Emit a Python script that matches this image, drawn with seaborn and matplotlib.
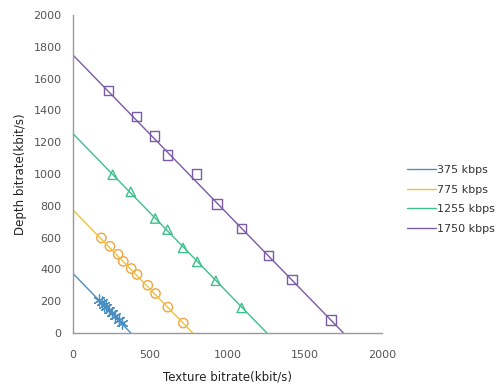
import pandas as pd
import matplotlib
matplotlib.use('Agg')
import matplotlib.pyplot as plt
import seaborn as sns

# total bitrate budgets (kbps)
rates = [375, 775, 1255, 1750]
labels = ['375 kbps', '775 kbps', '1255 kbps', '1750 kbps']
colors = ['#4a8fc4', '#f2c13a', '#3fbf8c', '#7b5aa6']
marker_colors = ['#4a8fc4', '#eea545', '#3fbf8c', '#7b5aa6']
markers = ['*', 'o', '^', 's']

# measured (texture, depth) pairs for each budget
tex_375 = [170, 188, 203, 218, 236, 252, 272, 296, 318]
dep_375 = [210, 192, 176, 160, 142, 124, 104, 82, 60]

tex_775 = [185, 240, 293, 327, 378, 416, 485, 535, 615, 715]
dep_775 = [598, 545, 495, 450, 405, 368, 300, 248, 162, 62]

tex_1255 = [258, 375, 533, 613, 713, 805, 925, 1092]
dep_1255 = [995, 888, 720, 650, 535, 447, 328, 157]

tex_1750 = [232, 410, 530, 612, 800, 932, 1093, 1265, 1418, 1670]
dep_1750 = [1525, 1362, 1240, 1120, 1000, 812, 658, 488, 335, 82]

points = [(tex_375, dep_375), (tex_775, dep_775), (tex_1255, dep_1255), (tex_1750, dep_1750)]

sns.set_style('white')
plt.rcParams['font.family'] = ['DejaVu Sans']

fig = plt.figure(figsize=(5.02, 3.88), dpi=100)
ax = fig.add_axes([0.145, 0.142, 0.616, 0.819])

handles = []
for r, lab, c, mc, m, (tx, dp) in zip(rates, labels, colors, marker_colors, markers, points):
    line_df = pd.DataFrame({'x': [0, r], 'y': [r, 0]})
    sns.lineplot(data=line_df, x='x', y='y', color=c, linewidth=1, ax=ax)
    handles.append(ax.lines[-1])
    pts = pd.DataFrame({'x': tx, 'y': dp})
    if m == '*':
        sns.scatterplot(data=pts, x='x', y='y', marker=(6, 2, 0), s=65, color=mc,
                        linewidth=0.9, ax=ax)
    else:
        sns.scatterplot(data=pts, x='x', y='y', marker=m, s=45, facecolor='none',
                        edgecolor=mc, linewidth=1.0, ax=ax)

ax.set_xlim(0, 2000)
ax.set_ylim(0, 2000)
ax.set_xticks(range(0, 2001, 500))
ax.set_yticks(range(0, 2001, 200))
ax.tick_params(axis='both', labelsize=8, labelcolor='#555555', length=0, pad=8)
ax.tick_params(axis='x', pad=12)
for s in ['top', 'right']:
    ax.spines[s].set_visible(False)
for s in ['left', 'bottom']:
    ax.spines[s].set_color('#999999')
    ax.spines[s].set_linewidth(1)

ax.set_xlabel('Texture bitrate(kbit/s)', fontsize=8.5, color='#222222', labelpad=8)
ax.set_ylabel('Depth bitrate(kbit/s)', fontsize=8.5, color='#222222', labelpad=5)

ax.legend(handles=handles, labels=labels, loc='center left', bbox_to_anchor=(1.05, 0.42),
          frameon=False, fontsize=8, handlelength=2.6, handletextpad=0.1,
          labelspacing=0.85, labelcolor='#333333')

fig.savefig('out.png', dpi=100)
